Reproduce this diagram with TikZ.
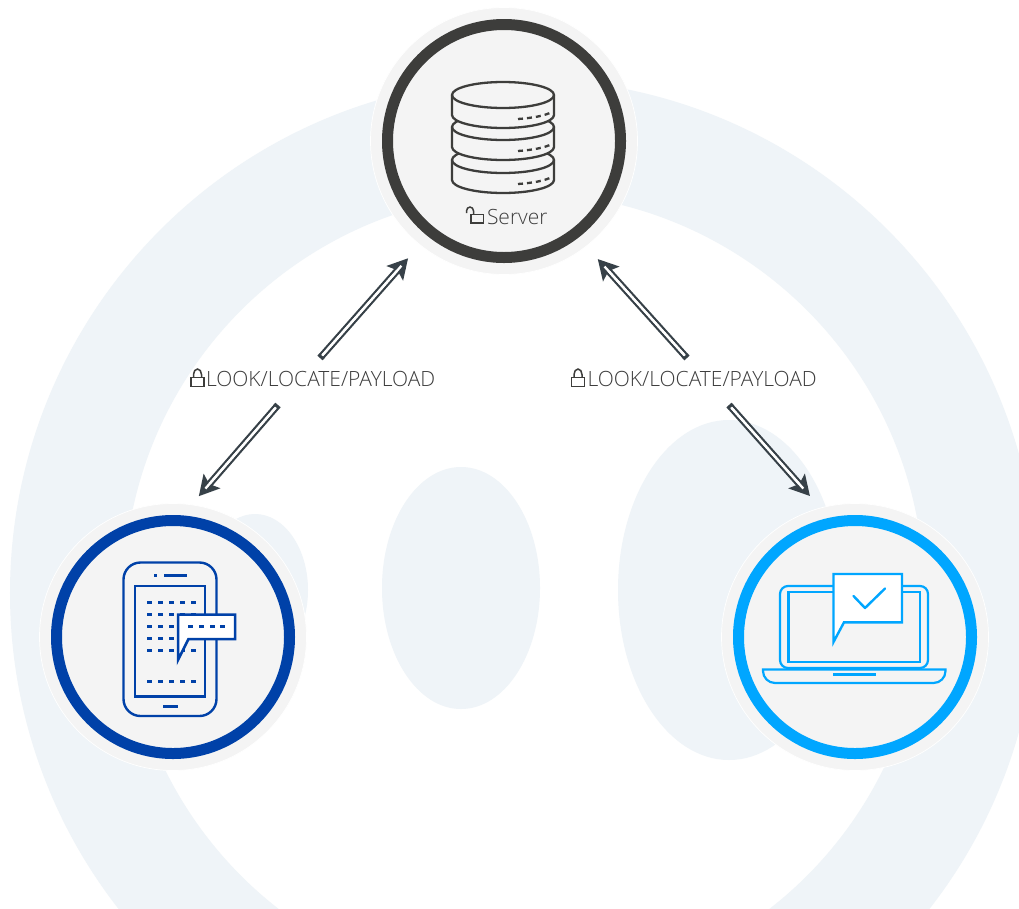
\documentclass[tikz,border=0pt]{standalone}
\usepackage{fontspec}
\setmainfont{Open Sans Light}
\usetikzlibrary{arrows.meta, positioning}
\definecolor{ringbg}{RGB}{239, 244, 248}
\definecolor{halogray}{RGB}{244, 244, 244}
\definecolor{serverdark}{RGB}{61, 61, 59}
\definecolor{phoneblue}{RGB}{0, 65, 168}
\definecolor{laptopblue}{RGB}{0, 166, 255}
\definecolor{arrowdark}{RGB}{55, 65, 72}
\definecolor{labeltext}{RGB}{60, 60, 60}

% one unit is one pixel of the picture
\newcommand{\serverdisc}[1]{%
  \draw[iconline, fill=halogray] (452,#1) -- ++(0,20)
    arc[start angle=180, end angle=360, x radius=51pt, y radius=13pt] -- ++(0,-20)
    arc[start angle=0, end angle=180, x radius=51pt, y radius=13pt] -- cycle;
  \draw[iconline] (452,#1) arc[start angle=180, end angle=360, x radius=51pt, y radius=13pt];
  \draw[iconline, dash pattern=on 5pt off 4pt] (518,#1+24) .. controls (532,#1+23) and (544,#1+21) .. (552,#1+17);
}
\newcommand{\closedlock}[2]{%
  \draw[lockline] (#1,#2) rectangle ++(13,9);
  \draw[lockline] (#1+2.5,#2) -- ++(0,-3) arc[start angle=180, end angle=0, x radius=4pt, y radius=5.5pt] -- ++(0,3);
}

\begin{document}
\begin{tikzpicture}[
    x=1pt, y=-1pt,
    every node/.style={font=\fontsize{21}{25}\selectfont, text=labeltext},
    halo/.style={circle, fill=halogray, draw=white, line width=0.7pt, minimum size=267pt, inner sep=0pt},
    ringnode/.style={circle, line width=11pt, fill=halogray, minimum size=233pt, inner sep=0pt},
    iconline/.style={serverdark, line width=2.3pt, line join=round},
    lockline/.style={serverdark, line width=1.5pt},
    flowarrow/.style={arrowdark, line width=2.3pt, double=white, double distance=2.3pt,
      {Square[length=3pt, width=7pt]}-{Stealth[length=20pt, width=22pt, inset=4pt]},
      shorten >=#1pt},
    arrowcore/.style={white, line width=2.3pt, shorten <=4pt, shorten >=#1pt}
  ]
  \useasboundingbox (0,0) rectangle (1019,908);
  \fill[white] (0,0) rectangle (1019,908);

  % Background ring and blobs
  \draw[ringbg, line width=114pt] (524,593) circle (457pt);
  \fill[ringbg] (461,588) ellipse (79pt and 121pt);
  \fill[ringbg] (729,590) ellipse (111pt and 170pt);
  \fill[ringbg] (255,590) ellipse (53pt and 76pt);

  % Server
  \node[halo] (server) at (504,141) {};
  \node[ringnode, draw=serverdark] (serverring) at (server) {};
  \foreach \discy in {160,127,95} {
    \serverdisc{\discy}
  }
  \node[anchor=west] (serverlabel) at (483.5,217) {Server};
  \draw[lockline] (471,214.5) rectangle (483.5,223);
  \draw[lockline] (466.5,213) -- ++(0,-2) arc[start angle=180, end angle=0, x radius=3.5pt, y radius=4pt] -- ++(0,3);

  % Phone
  \node[halo] (phone) at (173,637) {};
  \node[ringnode, draw=phoneblue] (phonering) at (phone) {};
  \draw[phoneblue, line width=2.4pt, rounded corners=17pt] (123.5,562.5) rectangle (216.5,716);
  \draw[phoneblue, line width=2.8pt] (135,586) rectangle (205,696.5);
  \fill[phoneblue] (153.5,573.5) rectangle (157,576.5);
  \fill[phoneblue] (164,573.5) rectangle (187,576.5);
  \fill[phoneblue] (163,704.8) rectangle (178,707.8);
  \foreach \rowy in {602.3,614.3,626.3,638.3,650.3,681.3} {
    \foreach \colx in {147,158,169,180,191} {
      \fill[phoneblue] (\colx,\rowy-1.5) rectangle ++(5,3);
    }
  }
  \draw[phoneblue, line width=2.5pt, fill=white, line join=miter] (178,614.5) -- (235,614.5) -- (235,639) -- (188.5,639) -- (178,660) -- cycle;
  \foreach \colx in {188,199,210,220} {
    \fill[phoneblue] (\colx,624.8) rectangle ++(5,3);
  }

  % Laptop
  \node[halo] (laptop) at (855,637) {};
  \node[ringnode, draw=laptopblue] (laptopring) at (laptop) {};
  \draw[laptopblue, line width=2.2pt, rounded corners=8pt] (780,586) rectangle (928,668);
  \draw[laptopblue, line width=2.6pt] (788.5,592) rectangle (920,662);
  \draw[laptopblue, line width=2.2pt, fill=halogray] (763,669.5) -- (945.5,669.5) -- ++(0,1.5)
    arc[start angle=0, end angle=-90, x radius=12pt, y radius=12pt] -- (775,683)
    arc[start angle=270, end angle=180, x radius=12pt, y radius=12pt] -- cycle;
  \fill[laptopblue] (833,673) rectangle (875.5,675.5);
  \draw[laptopblue, line width=2.4pt, fill=white, line join=miter] (833.5,574) -- (902,574) -- (902,622.3) -- (844,622.3) -- (833.5,642) -- cycle;
  \draw[laptopblue, line width=2.4pt, line cap=round, line join=round] (853.5,596) -- (865,608) -- (885,588.5);

  % Labels
  \node[anchor=west] (lookleft) at (202.5,379) {LOOK/LOCATE/PAYLOAD};
  \closedlock{191}{377.5}
  \node[anchor=west] (lookright) at (584,379) {LOOK/LOCATE/PAYLOAD};
  \closedlock{571.5}{377.5}

  % Free ends of the arrows
  \coordinate (leftup) at (320,358);
  \coordinate (leftdown) at (278,405);
  \coordinate (rightup) at (687,358);
  \coordinate (rightdown) at (729,405);

  % Arrows
  \draw[flowarrow=17.7] (leftup) -- (server.231.3);
  \draw[arrowcore=27.7] (leftup) -- (server.231.3);
  \draw[flowarrow=17] (rightup) -- (server.308.4);
  \draw[arrowcore=27] (rightup) -- (server.308.4);
  \draw[flowarrow=11] (leftdown) -- (phone.82.3);
  \draw[arrowcore=21] (leftdown) -- (phone.82.3);
  \draw[flowarrow=15.7] (rightdown) -- (laptop.105.6);
  \draw[arrowcore=25.7] (rightdown) -- (laptop.105.6);
\end{tikzpicture}
\end{document}
